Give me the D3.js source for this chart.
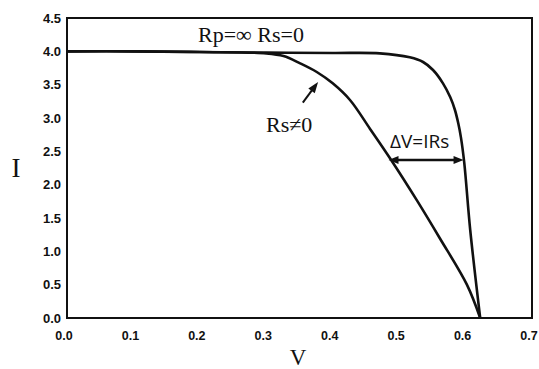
<!DOCTYPE html>
<html><head><meta charset="utf-8">
<script src="https://cdn.jsdelivr.net/npm/d3@7"></script>
<style>
html,body{margin:0;padding:0;background:#fff;}
svg{display:block;}
</style></head>
<body>
<script>
// ---- data ----
const xTicks = [0.0, 0.1, 0.2, 0.3, 0.4, 0.5, 0.6, 0.7];
const yTicks = [0.0, 0.5, 1.0, 1.5, 2.0, 2.5, 3.0, 3.5, 4.0, 4.5];
// ideal cell: Rp = inf, Rs = 0
const idealV = [0.0, 0.1, 0.2, 0.3, 0.4, 0.471, 0.516, 0.536, 0.551, 0.566, 0.577, 0.584, 0.589, 0.593, 0.598, 0.607, 0.622];
const idealI = [4.0, 4.0, 3.99, 3.98, 3.975, 3.97, 3.91, 3.84, 3.72, 3.52, 3.31, 3.12, 2.92, 2.71, 2.33, 1.32, 0.0];
// Rs != 0 cell
const rsV = [0.0, 0.1, 0.2, 0.3, 0.326, 0.351, 0.376, 0.400, 0.426, 0.456, 0.486, 0.527, 0.561, 0.602, 0.622];
const rsI = [4.0, 4.0, 3.99, 3.97, 3.93, 3.82, 3.69, 3.52, 3.27, 2.84, 2.40, 1.76, 1.20, 0.50, 0.0];

const W = 539, H = 369;
const svg = d3.select("body").append("svg").attr("width", W).attr("height", H);

const x = d3.scaleLinear().domain([0, 0.7]).range([67, 532]);
const y = d3.scaleLinear().domain([0, 4.5]).range([318, 18]);

// frame
svg.append("rect").attr("x", x(0)).attr("y", y(4.5))
  .attr("width", x(0.7) - x(0)).attr("height", y(0) - y(4.5))
  .attr("fill", "none").attr("stroke", "#111").attr("stroke-width", 2);

// tick labels
const tickFont = "'Liberation Sans', Arial, sans-serif";
svg.append("g").selectAll("text").data(yTicks).join("text")
  .attr("x", 61).attr("y", d => y(d)).attr("dy", "0.36em")
  .attr("text-anchor", "end").attr("font-family", tickFont)
  .attr("font-weight", "bold").attr("font-size", 13).attr("fill", "#111")
  .text(d => d.toFixed(1));
svg.append("g").selectAll("text").data(xTicks).join("text")
  .attr("x", d => x(d) - 3).attr("y", 340)
  .attr("text-anchor", "middle").attr("font-family", tickFont)
  .attr("font-weight", "bold").attr("font-size", 12.5).attr("fill", "#111")
  .text(d => d.toFixed(1));

// axis titles
const serif = "'Liberation Serif', 'Times New Roman', serif";
svg.append("text").attr("x", 16).attr("y", 177).attr("text-anchor", "middle")
  .attr("font-family", serif).attr("font-size", 27).attr("fill", "#111").text("I");
svg.append("text").attr("x", 298).attr("y", 365).attr("text-anchor", "middle")
  .attr("font-family", serif).attr("font-size", 23).attr("fill", "#111").text("V");

// curves
const line = d3.line().x(d => x(d[0])).y(d => y(d[1])).curve(d3.curveCatmullRom.alpha(0.5));
svg.append("path").datum(idealV.map((v, i) => [v, idealI[i]]))
  .attr("d", line).attr("fill", "none").attr("stroke", "#111").attr("stroke-width", 2.6);
svg.append("path").datum(rsV.map((v, i) => [v, rsI[i]]))
  .attr("d", line).attr("fill", "none").attr("stroke", "#111").attr("stroke-width", 2.6);

// annotations
svg.append("text").attr("x", 198).attr("y", 42)
  .attr("font-family", serif).attr("font-size", 22).attr("fill", "#111").text("Rp=∞ Rs=0");
svg.append("text").attr("x", 266).attr("y", 132)
  .attr("font-family", serif).attr("font-size", 22).attr("fill", "#111").text("Rs≠0");

// arrow pointing at Rs curve
const ax0 = [0.355, 3.23], ax1 = [0.378, 3.54];
const p0 = [x(ax0[0]), y(ax0[1])], p1 = [x(ax1[0]), y(ax1[1])];
const ang = Math.atan2(p1[1] - p0[1], p1[0] - p0[0]);
svg.append("line").attr("x1", p0[0]).attr("y1", p0[1])
  .attr("x2", p1[0] - 8 * Math.cos(ang)).attr("y2", p1[1] - 8 * Math.sin(ang))
  .attr("stroke", "#111").attr("stroke-width", 2);
function head(tip, a, len, wid) {
  const bx = tip[0] - len * Math.cos(a), by = tip[1] - len * Math.sin(a);
  const nx = -Math.sin(a) * wid, ny = Math.cos(a) * wid;
  return `M${tip[0]},${tip[1]}L${bx + nx},${by + ny}L${bx - nx},${by - ny}Z`;
}
svg.append("path").attr("d", head(p1, ang, 11, 4)).attr("fill", "#111");

// delta V double arrow
const dvI = 2.37, dvL = 0.484, dvR = 0.597;
const ly = y(dvI);
svg.append("line").attr("x1", x(dvL) + 6).attr("x2", x(dvR) - 6)
  .attr("y1", ly).attr("y2", ly).attr("stroke", "#111").attr("stroke-width", 2.4);
svg.append("path").attr("d", head([x(dvR), ly], 0, 10, 4)).attr("fill", "#111");
svg.append("path").attr("d", head([x(dvL), ly], Math.PI, 10, 4)).attr("fill", "#111");
svg.append("text").attr("x", 390).attr("y", 148)
  .attr("font-family", "'Open Sans', sans-serif").attr("font-size", 19).attr("fill", "#111")
  .text("ΔV=IRs");
</script>
</body></html>
